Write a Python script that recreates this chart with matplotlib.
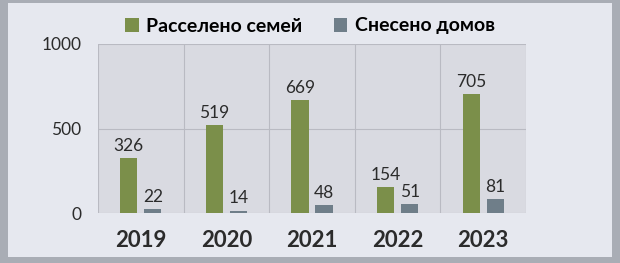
import matplotlib
matplotlib.use('Agg')
import matplotlib.pyplot as plt
from matplotlib.patches import Rectangle
import numpy as np

plt.rcParams['font.family'] = ['Lato', 'Open Sans', 'DejaVu Sans']

years = ['2019', '2020', '2021', '2022', '2023']
families = [326, 519, 669, 154, 705]
houses = [22, 14, 48, 51, 81]
series_names = ['Расселено семей', 'Снесено домов']

green = '#7b8f4a'
grey = '#6f7e89'
text_col = '#2b2b2b'

fig = plt.figure(figsize=(6.2, 2.63), dpi=100)
fig.patch.set_facecolor('#a9adb5')
# light inner panel
fig.add_artist(Rectangle((8 / 620, 6 / 263), 604 / 620, 254 / 263,
                         transform=fig.transFigure, facecolor='#e6e8ef',
                         edgecolor='none', zorder=0))

ax = fig.add_axes([98 / 620, 50 / 263, 428 / 620, 169 / 263])
ax.set_facecolor('#d9dae1')

x = np.arange(len(years))
w = 0.2
off = 0.14
b1 = ax.bar(x - off, families, w, color=green, label=series_names[0], zorder=3)
b2 = ax.bar(x + off, houses, w, color=grey, label=series_names[1], zorder=3)

for bars, vals in ((b1, families), (b2, houses)):
    for bar, v in zip(bars, vals):
        ax.text(bar.get_x() + bar.get_width() / 2, v + 25, str(v),
                ha='center', va='bottom', fontsize=12.5, color=text_col)

ax.set_xlim(-0.5, len(years) - 0.5)
ax.set_ylim(0, 1000)
ax.set_yticks([0, 500, 1000])
ax.set_xticks(x)
ax.set_xticklabels(years, fontsize=16, fontweight='bold', color=text_col)
ax.tick_params(axis='y', labelsize=12.5, labelcolor=text_col, length=0, pad=12)
ax.tick_params(axis='x', length=0, pad=12)

# category separators and horizontal gridlines
ax.set_xticks(np.arange(-0.5, len(years), 1.0), minor=True)
ax.tick_params(axis='x', which='minor', length=0)
ax.grid(axis='x', which='minor', color='#b9bac2', linewidth=0.8, zorder=1)
ax.grid(axis='y', which='major', color='#b9bac2', linewidth=0.8, zorder=1)
for s in ax.spines.values():
    s.set_visible(False)

ax.legend(loc='center', bbox_to_anchor=(0.5, 1.0 - 26 / 263), bbox_transform=fig.transFigure,
          ncol=2, frameon=False, handlelength=0.7, handleheight=0.7,
          handletextpad=0.4, columnspacing=1.6, prop={'weight': 'bold', 'size': 14})

plt.savefig('out.png', dpi=100, facecolor=fig.get_facecolor())
